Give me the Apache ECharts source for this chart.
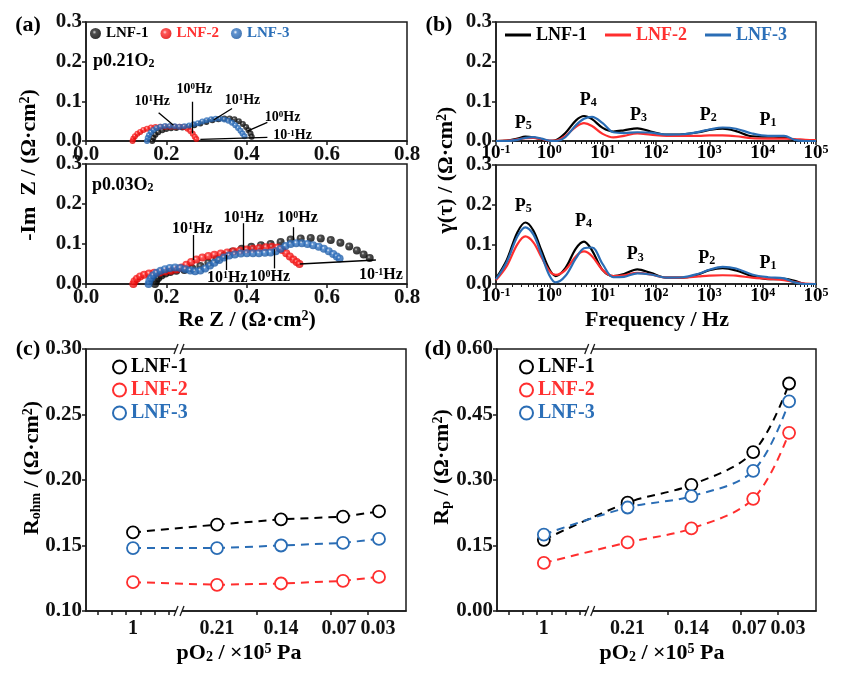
<!DOCTYPE html>
<html><head><meta charset="utf-8">
<script src="https://cdn.jsdelivr.net/npm/echarts@6/dist/echarts.min.js"></script>
<style>html,body{margin:0;padding:0;background:#fff}#c{width:845px;height:678px}</style>
</head><body><div id="c"></div>
<script>
// ================= DATA =================
// (a) Nyquist plots [Re Z, -Im Z]  (Ω·cm²)
const nyq021_LNF1 = [[0.165,0],[0.168,0.008],[0.173,0.016],[0.18,0.022],[0.19,0.027],[0.2,0.03],[0.212,0.032],[0.225,0.033],[0.24,0.034],[0.255,0.036],[0.27,0.04],[0.285,0.044],[0.3,0.048],[0.315,0.052],[0.33,0.055],[0.345,0.057],[0.358,0.057],[0.37,0.055],[0.381,0.05],[0.391,0.043],[0.399,0.035],[0.405,0.027],[0.41,0.019],[0.413,0.011]];
const nyq021_LNF2 = [[0.116,0],[0.118,0.006],[0.122,0.012],[0.128,0.018],[0.135,0.023],[0.143,0.028],[0.152,0.031],[0.162,0.034],[0.173,0.035],[0.185,0.036],[0.197,0.036],[0.209,0.036],[0.221,0.036],[0.233,0.036],[0.244,0.035],[0.253,0.031],[0.26,0.025],[0.266,0.018],[0.271,0.011],[0.275,0.005]];
const nyq021_LNF3 = [[0.152,0],[0.154,0.008],[0.157,0.015],[0.162,0.022],[0.168,0.028],[0.176,0.033],[0.186,0.036],[0.197,0.038],[0.209,0.038],[0.221,0.037],[0.233,0.036],[0.245,0.037],[0.257,0.039],[0.268,0.042],[0.279,0.045],[0.29,0.049],[0.301,0.052],[0.312,0.055],[0.323,0.056],[0.334,0.056],[0.345,0.054],[0.355,0.051],[0.364,0.046],[0.372,0.04],[0.379,0.033],[0.385,0.026],[0.39,0.019],[0.395,0.012]];
const nyq003_LNF1 = [[0.172,0],[0.175,0.008],[0.18,0.015],[0.188,0.021],[0.198,0.026],[0.21,0.03],[0.225,0.033],[0.245,0.035],[0.265,0.039],[0.285,0.045],[0.305,0.053],[0.325,0.062],[0.345,0.072],[0.365,0.081],[0.388,0.088],[0.412,0.093],[0.436,0.097],[0.46,0.1],[0.485,0.105],[0.51,0.111],[0.535,0.114],[0.56,0.115],[0.585,0.114],[0.61,0.11],[0.634,0.103],[0.656,0.094],[0.675,0.084],[0.692,0.074],[0.707,0.065]];
const nyq003_LNF2 = [[0.118,0],[0.121,0.007],[0.127,0.013],[0.135,0.019],[0.145,0.023],[0.157,0.026],[0.17,0.028],[0.184,0.029],[0.198,0.031],[0.212,0.033],[0.226,0.036],[0.238,0.041],[0.25,0.048],[0.262,0.055],[0.275,0.061],[0.29,0.066],[0.305,0.07],[0.32,0.073],[0.336,0.076],[0.352,0.079],[0.368,0.082],[0.384,0.084],[0.4,0.086],[0.416,0.088],[0.432,0.09],[0.448,0.092],[0.463,0.093],[0.477,0.091],[0.489,0.085],[0.499,0.077],[0.508,0.069],[0.517,0.061],[0.525,0.055],[0.532,0.05]];
const nyq003_LNF3 = [[0.156,0],[0.158,0.008],[0.162,0.015],[0.168,0.022],[0.176,0.028],[0.186,0.033],[0.197,0.037],[0.209,0.04],[0.222,0.041],[0.235,0.04],[0.248,0.037],[0.26,0.034],[0.272,0.032],[0.285,0.034],[0.297,0.039],[0.309,0.046],[0.32,0.053],[0.332,0.06],[0.344,0.066],[0.357,0.071],[0.371,0.074],[0.386,0.076],[0.401,0.077],[0.416,0.077],[0.431,0.077],[0.446,0.078],[0.46,0.079],[0.473,0.082],[0.485,0.088],[0.497,0.095],[0.51,0.1],[0.524,0.102],[0.538,0.102],[0.552,0.1],[0.566,0.097],[0.58,0.093],[0.593,0.088],[0.605,0.082],[0.616,0.075],[0.625,0.069],[0.632,0.064]];
// (a) frequency annotations: arrows [from, to] and labels [exponent, Re, -Im]
const arrows021 = [[[0.218,0.04],[0.181,0.071]],[[0.266,0.019],[0.266,0.099]],[[0.318,0.053],[0.364,0.082]],[[0.402,0.025],[0.452,0.047]],[[0.285,0.004],[0.452,0.009]]];
const labels021 = [['1',0.165,0.10],['0',0.27,0.131],['1',0.39,0.103],['0',0.49,0.06],['-1',0.515,0.013]];
const arrows003 = [[[0.267,0.06],[0.267,0.1225]],[[0.392,0.085],[0.392,0.152]],[[0.517,0.11],[0.517,0.142]],[[0.349,0.0725],[0.349,0.035]],[[0.468,0.087],[0.468,0.039]],[[0.533,0.05],[0.7225,0.06]]];
const labels003 = [['1',0.265,0.1375],['1',0.393,0.165],['0',0.527,0.165],['1',0.352,0.015],['0',0.458,0.0175],['-1',0.735,0.0225]];

// (b) DRT: log10(frequency / Hz) grid and γ(τ) values
const drtLogF = [-1,-0.8,-0.6,-0.45,-0.3,-0.15,0,0.12,0.3,0.5,0.65,0.8,1.0,1.2,1.4,1.65,1.9,2.2,2.5,2.8,3.0,3.25,3.5,3.8,4.1,4.4,4.6,4.8,5.0];
const drt021_LNF1 = [0,0.001,0.006,0.011,0.009,0.004,0.0,0.002,0.02,0.052,0.063,0.055,0.033,0.024,0.027,0.032,0.024,0.016,0.017,0.022,0.028,0.031,0.025,0.012,0.011,0.01,0.002,0,0];
const drt021_LNF2 = [0,0.001,0.004,0.007,0.008,0.005,0.001,0.001,0.013,0.036,0.045,0.038,0.018,0.009,0.013,0.019,0.016,0.013,0.013,0.013,0.014,0.014,0.012,0.007,0.006,0.006,0.005,0.003,0.002];
const drt021_LNF3 = [0,0,0.003,0.008,0.01,0.006,0.001,0,0.01,0.04,0.056,0.061,0.045,0.022,0.02,0.022,0.021,0.016,0.017,0.023,0.029,0.034,0.031,0.019,0.013,0.013,0.003,0,0];
const drt003_LNF1 = [0.014,0.06,0.13,0.155,0.135,0.085,0.037,0.02,0.04,0.09,0.107,0.085,0.035,0.02,0.025,0.037,0.028,0.016,0.016,0.025,0.035,0.04,0.034,0.02,0.012,0.013,0.008,0,0];
const drt003_LNF2 = [0.01,0.045,0.1,0.12,0.105,0.068,0.033,0.023,0.035,0.07,0.082,0.07,0.035,0.02,0.022,0.028,0.024,0.016,0.016,0.019,0.021,0.022,0.021,0.016,0.013,0.01,0.005,0.001,0];
const drt003_LNF3 = [0.012,0.055,0.12,0.143,0.125,0.075,0.022,0.004,0.02,0.065,0.09,0.092,0.05,0.017,0.018,0.027,0.024,0.016,0.017,0.026,0.036,0.043,0.039,0.024,0.017,0.014,0.004,0,0];
// peak labels [index, log10 f, γ]
const peaks021 = [['5',-0.49,0.045],['4',0.73,0.103],['3',1.67,0.065],['2',2.98,0.065],['1',4.1,0.053]];
const peaks003 = [['5',-0.49,0.197],['4',0.64,0.158],['3',1.61,0.074],['2',2.95,0.065],['1',4.1,0.053]];

// (c),(d) vs pO2
const pO2Labels = ['1','0.21','0.14','0.07','0.03'];
const pO2AxisPos = [47,131,195,257,293];        // position of each pO2 on the broken x axis (0..320)
const pO2LabelPos = [47,131,195,253,292];       // tick-label anchors on that axis
const pO2TickPos = [12,26,40,55,69,83,171,245,282];
const rohm_LNF1 = [0.160,0.166,0.170,0.172,0.176];
const rohm_LNF2 = [0.122,0.120,0.121,0.123,0.126];
const rohm_LNF3 = [0.148,0.148,0.150,0.152,0.155];
const rp_LNF1 = [0.163,0.248,0.289,0.364,0.521];
const rp_LNF2 = [0.110,0.157,0.189,0.257,0.408];
const rp_LNF3 = [0.175,0.237,0.263,0.321,0.480];

// ================= STYLE =================
const F = '"Liberation Serif","Times New Roman",serif';
const C1 = '#000000', C2 = '#ff2e2e', C3 = '#2a6db5';
const T2 = '#ff3030', T3 = '#2b6fb8';
function rich(sz, col){ col = col||'#000';
  return { n:{fontFamily:F,fontWeight:'bold',fontSize:sz,color:col},
           sup:{fontFamily:F,fontWeight:'bold',fontSize:Math.round(sz*0.62),color:col,verticalAlign:'top'},
           sub:{fontFamily:F,fontWeight:'bold',fontSize:Math.round(sz*0.65),color:col,verticalAlign:'bottom'} };
}
function ball(c0,c1,c2){ return new echarts.graphic.RadialGradient(0.4,0.38,0.6,[{offset:0,color:c0},{offset:0.3,color:c1},{offset:1,color:c2}]); }
const ballBlack = ball('#c8c8c8','#222','#000');
const ballRed = ball('#ffd0d0','#ff2a2a','#e00000');
const ballBlue = ball('#f4f8ff','#3878c4','#1a58a2');

const axisLineS = {show:true,onZero:false,lineStyle:{color:'#1a1a1a',width:1.5}};
const tickS = {show:true,inside:false,length:4,lineStyle:{color:'#1a1a1a',width:1.5}};
const lblS = (sz,m)=>({fontFamily:F,fontWeight:'bold',fontSize:sz,color:'#111',margin:m});

const grids = [
  {left:86, top:22, width:321, height:119},
  {left:86, top:164, width:321, height:120},
  {left:496, top:22, width:320, height:119},
  {left:496, top:165, width:320, height:119},
  {left:86, top:349, width:320, height:262},
  {left:497, top:349, width:319, height:262}
].map(g=>Object.assign(g,{show:true,borderColor:'#1a1a1a',borderWidth:1.5}));

function nyqX(i){ return {type:'value',gridIndex:i,min:0,max:0.8,interval:0.2,axisLine:axisLineS,axisTick:tickS,splitLine:{show:false},
  axisLabel:Object.assign(lblS(21,3),{formatter:v=>v.toFixed(1)})}; }
function y03(i){ return {type:'value',gridIndex:i,min:0,max:0.3,interval:0.1,axisLine:axisLineS,axisTick:tickS,splitLine:{show:false},
  axisLabel:Object.assign(lblS(21,4),{formatter:v=>v.toFixed(1)})}; }
function logX(i){ return {type:'log',gridIndex:i,min:0.1,max:100000,logBase:10,axisLine:axisLineS,axisTick:tickS,splitLine:{show:false},
  minorTick:{show:true,splitNumber:9,length:3,lineStyle:{color:'#1a1a1a',width:1}},minorSplitLine:{show:false},
  axisLabel:{margin:3,formatter:v=>{const e=Math.round(Math.log10(v));return '{n|10}{sup|'+(e<0?'-'+(-e):e)+'}';},rich:rich(19)}}; }
function pX(i){ return {type:'value',gridIndex:i,min:0,max:320,axisLine:axisLineS,splitLine:{show:false},
  axisTick:Object.assign({},tickS,{customValues:pO2TickPos}),
  axisLabel:Object.assign(lblS(20,8),{hideOverlap:false,showMinLabel:true,showMaxLabel:true,customValues:pO2LabelPos,
    formatter:v=>{const k=pO2LabelPos.indexOf(v);return k>=0?pO2Labels[k]:'';}})}; }

function scat(name,data,xi,color,size){ return {type:'scatter',name,xAxisIndex:xi,yAxisIndex:xi,data,symbol:'circle',symbolSize:size,
  itemStyle:{color:color,borderWidth:0},z:3}; }
function annot(arrows,labels,xi,fs){ return {type:'scatter',name:'ann'+xi,xAxisIndex:xi,yAxisIndex:xi,data:[],z:5,
  markLine:{silent:true,symbol:['none','arrow'],symbolSize:[0,8],animation:false,lineStyle:{color:'#000',width:1.3,type:'solid'},label:{show:false},
    data:arrows.map(a=>[{coord:a[0]},{coord:a[1]}])},
  markPoint:{silent:true,symbol:'rect',symbolSize:1,itemStyle:{color:'rgba(0,0,0,0)'},animation:false,
    data:labels.map(l=>({coord:[l[1],l[2]],label:{show:true,position:'inside',formatter:'{n|10}{sup|'+l[0]+'}{n|Hz}',rich:rich(fs)}}))}}; }
const drtPairs = arr => drtLogF.map((e,i)=>[Math.pow(10,e),arr[i]]);
function drt(name,arr,xi,color){ return {type:'line',name,xAxisIndex:xi,yAxisIndex:xi,data:drtPairs(arr),smooth:0.35,showSymbol:false,symbol:'none',
  lineStyle:{color,width:2.2},itemStyle:{color},z:3}; }
function peaks(p,xi){ return {type:'scatter',name:'pk'+xi,xAxisIndex:xi,yAxisIndex:xi,data:[],z:5,
  markPoint:{silent:true,symbol:'rect',symbolSize:1,itemStyle:{color:'rgba(0,0,0,0)'},animation:false,
    data:p.map(q=>({coord:[Math.pow(10,q[1]),q[2]],label:{show:true,position:'inside',formatter:'{n|P}{sub|'+q[0]+'}',rich:rich(18)}}))}}; }
function pl(name,vals,xi,color,smooth){ return {type:'line',name,xAxisIndex:xi,yAxisIndex:xi,data:vals.map((v,i)=>[pO2AxisPos[i],v]),
  smooth:smooth,symbol:'circle',symbolSize:12,showSymbol:true,
  lineStyle:{color,width:2,type:[8,6]},itemStyle:{color:'#fff',borderColor:color,borderWidth:1.8},z:3}; }

const legendTxt = sz=>({fontFamily:F,fontWeight:'bold',fontSize:sz});
const fmt = n=>n.split(':')[1];

const option = {
  backgroundColor:'#fff',
  animation:false,
  grid:grids,
  xAxis:[nyqX(0),nyqX(1),logX(2),logX(3),pX(4),pX(5)],
  yAxis:[y03(0),y03(1),y03(2),y03(3),
    {type:'value',gridIndex:4,min:0.1,max:0.3,interval:0.05,axisLine:axisLineS,axisTick:tickS,splitLine:{show:false},axisLabel:Object.assign(lblS(21,4),{formatter:v=>v.toFixed(2)})},
    {type:'value',gridIndex:5,min:0,max:0.6,interval:0.15,axisLine:axisLineS,axisTick:tickS,splitLine:{show:false},axisLabel:Object.assign(lblS(21,4),{formatter:v=>v.toFixed(2)})}],
  legend:[
    {left:90,top:26,padding:0,itemGap:12,itemWidth:11,itemHeight:11,icon:'circle',formatter:fmt,textStyle:legendTxt(15),selectedMode:false,
      data:[{name:'a:LNF-1',textStyle:{color:C1}},{name:'a:LNF-2',textStyle:{color:T2}},{name:'a:LNF-3',textStyle:{color:T3}}]},
    {left:505,top:26,padding:0,itemGap:18,itemWidth:26,itemHeight:3,icon:'rect',formatter:fmt,textStyle:legendTxt(18),selectedMode:false,
      data:[{name:'b:LNF-1',textStyle:{color:C1},itemStyle:{color:C1}},{name:'b:LNF-2',textStyle:{color:T2},itemStyle:{color:C2}},{name:'b:LNF-3',textStyle:{color:T3},itemStyle:{color:C3}}]},
    {left:112,top:357,padding:0,orient:'vertical',itemGap:3,itemWidth:13,itemHeight:13,icon:'circle',formatter:fmt,textStyle:legendTxt(20),selectedMode:false,
      data:[{name:'c:LNF-1',textStyle:{color:C1},itemStyle:{color:'#fff',borderColor:C1,borderWidth:2}},{name:'c:LNF-2',textStyle:{color:T2},itemStyle:{color:'#fff',borderColor:C2,borderWidth:2}},{name:'c:LNF-3',textStyle:{color:T3},itemStyle:{color:'#fff',borderColor:C3,borderWidth:2}}]},
    {left:519,top:357,padding:0,orient:'vertical',itemGap:3,itemWidth:13,itemHeight:13,icon:'circle',formatter:fmt,textStyle:legendTxt(20),selectedMode:false,
      data:[{name:'d:LNF-1',textStyle:{color:C1},itemStyle:{color:'#fff',borderColor:C1,borderWidth:2}},{name:'d:LNF-2',textStyle:{color:T2},itemStyle:{color:'#fff',borderColor:C2,borderWidth:2}},{name:'d:LNF-3',textStyle:{color:T3},itemStyle:{color:'#fff',borderColor:C3,borderWidth:2}}]}
  ],
  series:[
    scat('a:LNF-1',nyq021_LNF1,0,ballBlack,6), scat('a:LNF-2',nyq021_LNF2,0,ballRed,6), scat('a:LNF-3',nyq021_LNF3,0,ballBlue,6),
    scat('a1:LNF-1',nyq003_LNF1,1,ballBlack,8), scat('a1:LNF-2',nyq003_LNF2,1,ballRed,8), scat('a1:LNF-3',nyq003_LNF3,1,ballBlue,8),
    annot(arrows021,labels021,0,14), annot(arrows003,labels003,1,16),
    drt('b:LNF-1',drt021_LNF1,2,C1), drt('b:LNF-2',drt021_LNF2,2,C2), drt('b:LNF-3',drt021_LNF3,2,C3),
    drt('b1:LNF-1',drt003_LNF1,3,C1), drt('b1:LNF-2',drt003_LNF2,3,C2), drt('b1:LNF-3',drt003_LNF3,3,C3),
    peaks(peaks021,2), peaks(peaks003,3),
    pl('c:LNF-1',rohm_LNF1,4,C1,false), pl('c:LNF-2',rohm_LNF2,4,C2,false), pl('c:LNF-3',rohm_LNF3,4,C3,false),
    pl('d:LNF-1',rp_LNF1,5,C1,0.35), pl('d:LNF-2',rp_LNF2,5,C2,0.35), pl('d:LNF-3',rp_LNF3,5,C3,0.35)
  ]
};

function txt(x,y,text,sz,rot){ return {type:'text',x,y,rotation:rot||0,z:10,silent:true,
  style:{text,rich:rich(sz),align:'center',verticalAlign:'middle'}}; }
const chart = echarts.init(document.getElementById('c'),null,{renderer:'canvas'});
chart.setOption(option);

const g = [
  txt(28,25,'{n|(a)}',22), txt(439,25,'{n|(b)}',22), txt(28,349,'{n|(c)}',22), txt(438,349,'{n|(d)}',22),
  {type:'text',x:93,y:61,z:10,silent:true,style:{text:'{n|p0.21O}{sub|2}',rich:rich(18),align:'left',verticalAlign:'middle'}},
  {type:'text',x:92,y:185,z:10,silent:true,style:{text:'{n|p0.03O}{sub|2}',rich:rich(18),align:'left',verticalAlign:'middle'}},
  txt(29,165,'{n|-Im  Z / (Ω·cm}{sup|2}{n|)}',22,Math.PI/2),
  txt(247,320,'{n|Re Z / (Ω·cm}{sup|2}{n|)}',22),
  txt(446,170,'{n|γ(τ) / (Ω·cm}{sup|2}{n|)}',22,Math.PI/2),
  txt(657,320,'{n|Frequency / Hz}',22),
  txt(32,468,'{n|R}{sub|ohm}{n| / (Ω·cm}{sup|2}{n|)}',22,Math.PI/2),
  txt(442,467,'{n|R}{sub|p}{n| / (Ω·cm}{sup|2}{n|)}',22,Math.PI/2),
  txt(239,653,'{n|pO}{sub|2}{n| / ×10}{sup|5}{n| Pa}',22),
  txt(662,653,'{n|pO}{sub|2}{n| / ×10}{sup|5}{n| Pa}',22)
];
// axis-break marks on (c) and (d)
[[4,0.1,0.3],[5,0,0.6]].forEach(([gi,y0,y1])=>{
  [y0,y1].forEach(yv=>{
    const p = chart.convertToPixel({xAxisIndex:gi,yAxisIndex:gi},[93,yv]);
    g.push({type:'rect',z:20,silent:true,shape:{x:p[0]-3,y:p[1]-3,width:6,height:6},style:{fill:'#fff'}});
    g.push({type:'line',z:21,silent:true,shape:{x1:p[0]-5,y1:p[1]+5,x2:p[0]-1,y2:p[1]-5},style:{stroke:'#1a1a1a',lineWidth:1.3}});
    g.push({type:'line',z:21,silent:true,shape:{x1:p[0]+1,y1:p[1]+5,x2:p[0]+5,y2:p[1]-5},style:{stroke:'#1a1a1a',lineWidth:1.3}});
  });
});
chart.setOption({graphic:g});
</script>
</body></html>
